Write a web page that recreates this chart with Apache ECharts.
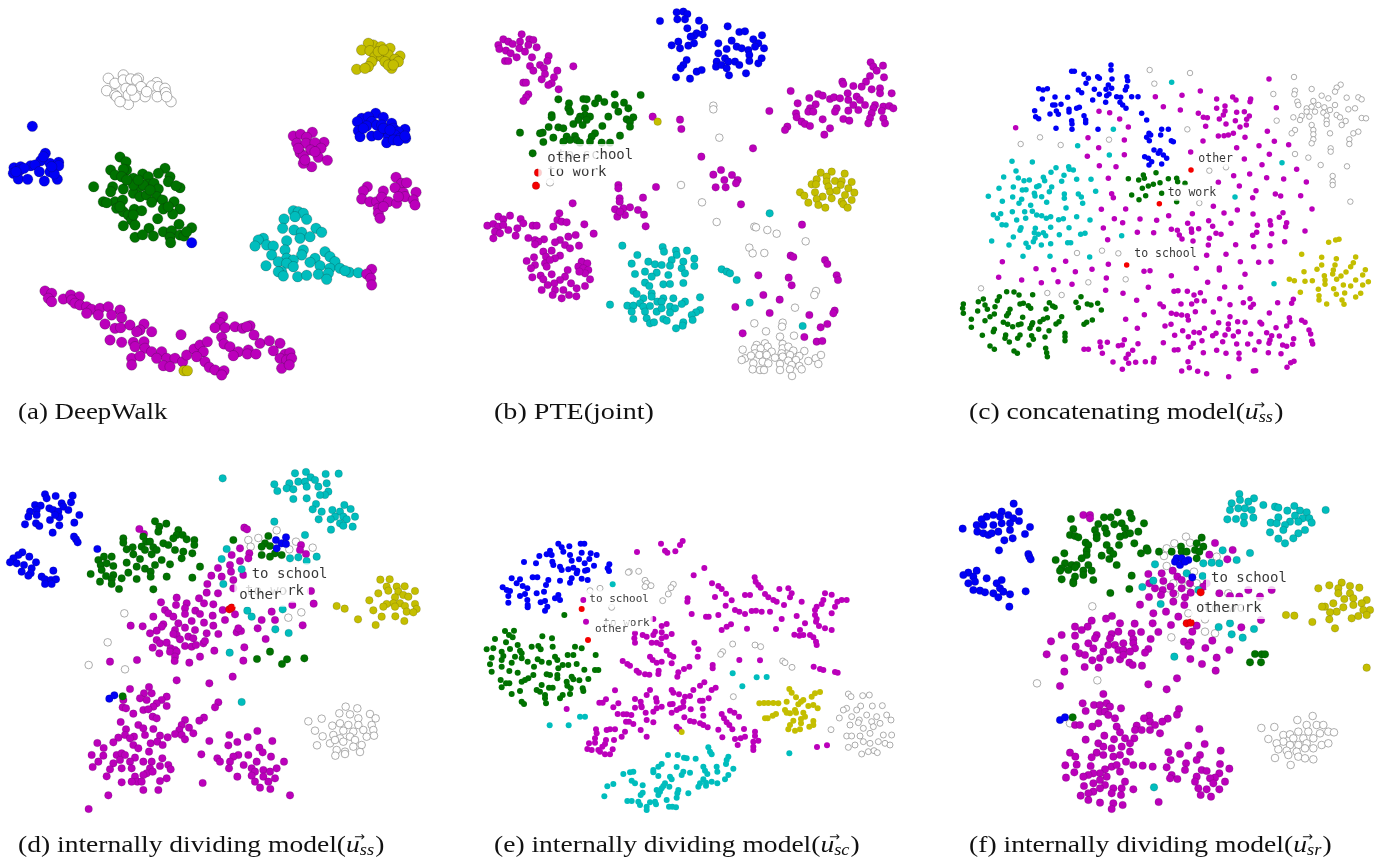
<!DOCTYPE html>
<html>
<head>
<meta charset="utf-8">
<title>embeddings</title>
<script src="https://cdn.jsdelivr.net/npm/echarts@6/dist/echarts.min.js"></script>
<style>
html,body{margin:0;padding:0;background:#fff}
#main{width:1377px;height:860px}
</style>
</head>
<body>
<div id="main"></div>
<script>
// values, each panel has its own 3x scale
var aBlue=[[97,379],[136,460],[122,482],[150,490],[176,487],[176,497],[42,503],[62,500],[60,510],[92,497],[105,495],[40,520],[55,537],[83,538],[118,515],[133,543],[172,538],[150,515],[163,522],[72,505],[48,515],[130,470],[155,500],[575,728],[1127,340],[1150,352],[1085,355],[1105,350],[1072,365],[1115,365],[1175,370],[1100,378],[1075,392],[1130,375],[1145,375],[1180,385],[1215,388],[1195,395],[1160,395],[1080,410],[1115,408],[1135,405],[1165,410],[1185,405],[1200,415],[1217,415],[1160,428],[1180,420],[1195,422],[1215,408],[1150,385],[1090,385],[1170,390]];
var aGreen=[[360,471],[378,485],[380,510],[332,510],[370,508],[345,525],[365,530],[400,535],[428,522],[445,530],[495,505],[475,520],[510,530],[505,545],[540,563],[528,557],[281,560],[338,560],[332,575],[370,567],[420,560],[445,553],[462,550],[475,567],[400,580],[420,590],[440,585],[470,590],[488,600],[455,607],[310,605],[345,605],[368,600],[522,605],[350,625],[370,635],[385,645],[403,628],[425,632],[490,627],[540,627],[518,642],[473,656],[395,660],[405,675],[370,677],[537,673],[447,685],[575,683],[490,695],[515,692],[405,712],[428,704],[460,708],[510,712],[512,728],[540,705],[552,708],[560,695],[430,555],[400,555],[380,540],[415,540],[450,570],[320,608],[360,620],[505,620],[400,645]];
var aOlive=[[1120,135],[1105,130],[1085,150],[1110,152],[1143,140],[1170,145],[1125,170],[1145,170],[1165,165],[1200,168],[1185,178],[1155,185],[1195,185],[1115,185],[1105,200],[1070,208],[1095,205],[1175,205],[1165,195],[1180,195],[1135,155],[552,1112],[562,1112],[1150,150]];
var aWhite=[[325,235],[370,225],[345,250],[370,240],[392,237],[415,235],[410,240],[320,272],[345,285],[378,265],[423,260],[470,248],[455,258],[475,260],[495,265],[472,290],[497,278],[435,290],[513,305],[385,313],[350,290],[385,285],[360,305],[405,290],[395,270],[440,275],[500,290]];
var aMagenta=[[937,397],[880,408],[902,403],[920,412],[972,427],[890,430],[918,430],[945,428],[963,445],[932,450],[900,458],[910,468],[955,472],[982,481],[935,500],[910,490],[945,455],[895,445],[915,480],[1188,532],[1205,550],[1220,548],[1102,560],[1090,573],[1150,573],[1185,563],[1210,578],[1248,577],[1085,597],[1110,605],[1130,605],[1145,592],[1165,605],[1190,610],[1215,590],[1240,600],[1245,615],[1135,625],[1135,640],[1140,655],[1150,620],[1195,590],[1115,808],[1100,822],[1112,835],[1115,855],[135,873],[155,880],[145,895],[155,905],[190,897],[212,885],[238,890],[215,900],[225,910],[240,915],[260,920],[275,928],[300,925],[325,920],[360,930],[260,940],[295,945],[335,945],[365,953],[315,972],[345,985],[362,983],[330,1020],[365,1027],[390,975],[432,972],[420,990],[410,995],[455,995],[543,1004],[400,1027],[432,1025],[405,1040],[435,1045],[455,1055],[485,1055],[395,1075],[420,1068],[470,1075],[500,1075],[525,1075],[395,1095],[490,1097],[510,1100],[548,1085],[560,1065],[582,1047],[600,1035],[622,1025],[610,1055],[590,1070],[615,1085],[628,1102],[645,1110],[672,1112],[665,1125],[668,950],[660,968],[645,983],[675,983],[705,980],[728,985],[750,977],[740,980],[762,1005],[665,1012],[672,1032],[690,1040],[715,1055],[700,1067],[745,1050],[742,1062],[768,1062],[780,1030],[808,1022],[840,1030],[820,1052],[855,1063],[870,1058],[840,1075],[860,1080],[875,1075],[845,1105],[868,1095]];
var aCyan=[[880,632],[895,635],[910,640],[852,657],[885,650],[920,658],[848,685],[882,690],[905,697],[948,685],[965,697],[860,722],[900,715],[930,710],[790,715],[775,720],[765,738],[800,735],[820,738],[855,750],[910,750],[815,765],[860,775],[905,765],[975,755],[990,770],[880,780],[835,785],[945,775],[930,787],[1005,785],[798,797],[860,790],[880,800],[960,797],[990,805],[1020,805],[845,815],[835,815],[850,828],[893,830],[920,826],[955,823],[985,820],[980,838],[1048,817],[1075,818],[1035,812]];

var bBlue=[[620,37],[640,35],[652,42],[570,63],[622,58],[645,58],[687,62],[703,83],[652,85],[680,100],[698,103],[672,108],[662,110],[773,79],[808,96],[825,94],[876,106],[745,130],[785,122],[850,118],[605,136],[625,125],[630,145],[655,137],[672,130],[770,147],[800,140],[815,145],[835,150],[865,130],[882,145],[855,140],[838,165],[745,160],[740,185],[765,175],[775,185],[795,185],[808,195],[838,183],[875,175],[865,190],[650,180],[640,195],[632,205],[618,232],[660,236],[680,215],[695,210],[738,200],[755,195],[770,205],[777,226],[828,220]];
var bMagenta=[[155,103],[100,118],[115,125],[85,135],[88,147],[128,132],[150,125],[178,118],[190,120],[175,135],[200,142],[148,145],[165,155],[108,152],[122,160],[140,172],[186,172],[236,168],[105,183],[115,183],[232,183],[180,198],[190,212],[210,195],[222,205],[310,199],[262,212],[225,222],[215,238],[252,232],[160,248],[168,248],[245,250],[235,255],[266,268],[175,283],[168,292],[160,303],[548,350],[630,359],[634,387],[694,470],[849,445],[898,333],[753,510],[730,524],[786,525],[763,540],[803,540],[737,562],[767,562],[798,550],[813,613],[445,555],[445,565],[558,561],[449,595],[449,605],[519,593],[435,628],[460,625],[480,622],[504,630],[442,650],[465,645],[522,644],[527,679],[308,610],[450,635],[52,677],[85,650],[100,658],[120,647],[152,657],[160,670],[70,672],[85,680],[100,675],[115,690],[75,695],[90,700],[70,715],[137,707],[142,685],[188,677],[200,677],[250,680],[268,640],[262,660],[275,665],[290,667],[343,673],[371,701],[175,714],[195,720],[222,718],[205,725],[195,733],[295,710],[317,705],[270,720],[255,727],[285,735],[300,745],[327,737],[245,752],[220,755],[270,767],[255,775],[228,770],[192,772],[170,783],[195,795],[225,790],[240,780],[183,805],[230,800],[335,785],[352,790],[325,800],[340,805],[355,810],[345,820],[328,815],[293,810],[245,823],[187,832],[212,827],[220,838],[360,838],[285,830],[270,840],[253,850],[233,855],[303,850],[345,858],[320,865],[215,870],[255,870],[280,870],[248,885],[275,895],[297,885],[319,889],[962,273],[1202,187],[1210,200],[1220,212],[1239,197],[1242,232],[1117,245],[1200,228],[1188,245],[1175,260],[1150,258],[1120,252],[1045,282],[1058,287],[1133,280],[1205,268],[1230,265],[1265,280],[1018,294],[1080,297],[1092,292],[1110,295],[1135,300],[1160,290],[1170,300],[983,310],[1037,313],[1150,315],[1185,315],[1230,280],[1215,315],[1210,325],[1240,320],[1258,318],[1270,325],[1020,325],[1015,335],[1100,325],[1095,335],[1135,332],[1165,330],[1235,333],[978,340],[1030,335],[980,352],[1205,340],[1200,355],[1195,370],[995,365],[1005,372],[1020,378],[1058,358],[1120,357],[1138,362],[1240,355],[1245,370],[952,380],[945,390],[1080,385],[1063,404],[996,674],[962,767],[970,771],[1065,780],[1072,792],[865,826],[956,833],[965,856],[1100,826],[1104,840],[880,885],[929,899],[796,921],[899,939],[1018,945],[1094,932],[1090,940],[1052,982],[1072,972],[818,1000],[1003,1011],[1040,1025],[1057,1023]];
var bGreen=[[434,283],[512,285],[265,298],[340,297],[350,298],[385,295],[375,310],[403,306],[297,310],[295,325],[300,335],[345,325],[435,315],[462,308],[475,325],[445,335],[415,350],[345,345],[330,350],[360,350],[350,360],[245,345],[245,352],[325,360],[470,358],[490,352],[480,365],[338,375],[310,372],[397,378],[236,381],[265,382],[280,385],[480,380],[218,398],[210,400],[150,398],[450,407],[250,413],[375,400],[365,410],[290,410],[315,408],[300,420],[320,420],[220,426],[280,425],[360,425],[420,428],[395,428],[330,428],[188,460]];
var bOlive=[[563,365],[1052,518],[1085,515],[1124,521],[1070,530],[1040,538],[1070,545],[1095,543],[1115,543],[1145,546],[1025,553],[1038,553],[1075,560],[1112,555],[1135,565],[990,577],[1003,587],[1035,577],[1058,590],[1080,575],[1100,572],[1125,585],[1153,578],[1040,597],[1085,595],[1015,608],[1045,615],[1066,623],[1115,605],[1120,613],[1145,600],[1133,623]];
var bCyan=[[899,640],[457,737],[578,741],[618,752],[651,752],[582,755],[620,765],[502,765],[673,776],[605,780],[535,785],[485,791],[555,793],[575,795],[600,797],[640,785],[673,798],[635,805],[495,822],[525,815],[560,818],[645,820],[595,825],[545,830],[525,848],[580,853],[600,852],[640,849],[538,858],[755,808],[770,815],[780,820],[800,840],[490,873],[500,882],[545,880],[580,895],[545,890],[690,892],[520,895],[610,895],[645,905],[635,912],[420,914],[472,917],[490,917],[510,910],[520,920],[562,905],[575,905],[600,920],[540,918],[560,935],[575,925],[615,925],[485,935],[525,935],[600,938],[690,930],[678,937],[665,945],[490,957],[530,955],[580,957],[590,962],[668,960],[540,970],[552,967],[640,967],[638,977],[618,985],[839,908],[998,978]];
var bWhite=[[730,317],[730,328],[748,413],[633,555],[240,547],[696,607],[740,666],[853,680],[858,682],[892,690],[920,701],[1007,724],[838,743],[848,760],[883,759],[1038,873],[1033,885],[975,923],[853,970],[938,968],[936,980],[888,994],[930,1010],[972,1007],[818,1049],[860,1035],[885,1030],[855,1045],[872,1045],[893,1040],[905,1055],[855,1060],[825,1075],[843,1067],[868,1065],[890,1065],[938,1032],[938,1045],[955,1040],[970,1052],[1003,1053],[935,1060],[938,1070],[915,1073],[960,1065],[988,1068],[850,1090],[878,1085],[895,1090],[955,1082],[978,1080],[1015,1083],[1037,1075],[1053,1065],[1045,1092],[930,1092],[965,1095],[988,1098],[848,1108],[870,1110],[882,1110],[930,1110],[960,1108],[995,1108],[966,1128],[815,1080]];
var bRed=[[204,518],[198,557]];
var bLabels=[[235,465,'to school'],[205,517,'to work'],[205,475,'other']];

var cBlue=[[513,45],[513,60],[403,64],[395,64],[432,73],[473,80],[478,85],[561,80],[563,92],[516,87],[445,85],[438,100],[505,105],[498,118],[515,115],[560,110],[556,120],[296,116],[309,120],[322,116],[415,120],[425,128],[463,118],[478,133],[500,137],[507,132],[530,140],[542,142],[575,140],[594,140],[345,141],[383,142],[307,147],[458,150],[497,157],[540,157],[548,165],[558,175],[338,165],[345,165],[363,163],[387,178],[387,186],[418,172],[410,175],[284,182],[349,183],[355,193],[330,192],[287,200],[296,206],[432,197],[437,210],[437,218],[395,212],[396,222],[605,190],[620,210],[348,235],[396,238],[474,238],[627,250],[665,238],[685,238],[632,255],[620,262],[662,255],[628,272],[694,272],[700,275],[642,300],[660,302],[670,315],[680,325],[614,320],[625,325],[635,335],[627,345],[665,342],[655,310]];
var cMagenta=[[987,87],[646,140],[726,136],[781,123],[830,147],[878,141],[888,150],[932,147],[930,155],[670,170],[721,180],[855,168],[830,175],[1009,173],[477,184],[509,188],[775,190],[855,183],[890,187],[913,185],[790,202],[802,203],[838,207],[850,195],[886,212],[928,198],[920,208],[539,207],[858,222],[919,225],[900,231],[797,229],[565,231],[227,233],[982,244],[880,250],[865,255],[852,257],[835,258],[915,262],[444,263],[553,270],[789,273],[1003,274],[957,287],[890,293],[1046,284],[476,293],[752,306],[988,313],[442,319],[553,314],[913,327],[478,347],[528,350],[966,344],[1070,358],[881,377],[929,372],[505,385],[980,383],[1031,387],[835,397],[898,408],[1099,396],[948,422],[515,431],[520,443],[938,443],[1006,432],[1022,438],[1082,437],[820,469],[484,478],[557,477],[892,480],[1116,477],[852,489],[757,491],[686,497],[939,492],[1029,488],[1018,502],[523,506],[600,507],[650,511],[548,518],[806,512],[743,520],[873,520],[990,512],[992,525],[952,526],[1040,518],[1037,530],[490,534],[694,538],[818,529],[754,537],[776,536],[712,541],[718,555],[755,547],[592,547],[641,548],[828,550],[843,553],[950,547],[938,556],[995,551],[1095,543],[503,569],[726,567],[759,573],[808,565],[1034,575],[805,585],[887,584],[941,590],[990,587],[800,616],[858,613],[187,635],[377,634],[505,643],[901,635],[956,637],[993,635],[288,656],[341,659],[456,658],[406,665],[612,664],[630,662],[769,655],[838,654],[838,660],[176,682],[499,684],[694,677],[915,673],[245,690],[304,698],[354,695],[396,703],[803,697],[625,712],[497,721],[549,730],[854,711],[902,712],[702,724],[714,722],[742,724],[781,728],[762,735],[590,751],[770,752],[793,753],[839,746],[930,746],[910,758],[660,762],[670,770],[723,762],[755,762],[870,764],[940,763],[932,772],[1060,748],[1055,760],[1013,758],[766,785],[820,786],[694,790],[709,793],[725,795],[742,797],[745,810],[988,789],[613,794],[557,808],[870,800],[1048,803],[1085,811],[1095,817],[836,818],[865,822],[893,815],[915,817],[960,817],[965,822],[1050,816],[1040,828],[675,828],[693,823],[1008,833],[592,835],[728,842],[762,847],[778,848],[793,835],[865,838],[895,845],[828,850],[818,857],[855,855],[880,858],[932,852],[980,848],[995,857],[1018,858],[1107,840],[1112,852],[704,856],[745,860],[760,880],[1061,866],[990,870],[553,869],[480,876],[502,877],[594,881],[670,878],[786,872],[848,875],[890,882],[923,882],[957,875],[987,880],[1028,885],[1040,889],[1058,883],[1115,873],[1118,882],[547,885],[535,887],[482,890],[432,898],[445,898],[752,892],[703,900],[714,899],[578,901],[830,901],[944,900],[985,908],[1023,911],[487,910],[565,913],[790,908],[858,910],[897,910],[897,926],[558,925],[642,925],[640,936],[519,936],[566,940],[587,937],[616,935],[744,935],[1062,934],[1052,938],[1041,952],[547,958],[748,953],[725,963],[773,964],[800,971],[866,980],[947,962],[940,963]];
var cCyan=[[695,97],[520,238],[413,287],[508,315],[216,334],[277,336],[1026,338],[348,353],[386,350],[388,358],[400,360],[228,363],[333,367],[372,376],[191,381],[235,384],[252,392],[268,390],[310,382],[314,392],[365,394],[410,388],[453,388],[177,415],[220,411],[247,420],[258,419],[290,410],[297,407],[335,411],[283,430],[328,425],[373,432],[415,432],[424,441],[467,424],[885,441],[145,439],[187,454],[218,441],[245,448],[237,460],[285,438],[305,440],[320,457],[373,445],[428,460],[272,466],[160,494],[182,491],[217,485],[254,485],[277,484],[290,495],[305,497],[319,505],[332,500],[378,474],[410,500],[450,510],[172,505],[230,510],[257,505],[356,509],[370,506],[186,524],[198,525],[243,533],[240,541],[286,535],[332,532],[387,533],[220,561],[283,548],[295,553],[310,548],[317,557],[358,554],[422,553],[435,550],[545,557],[155,573],[207,585],[258,580],[265,592],[280,575],[285,565],[304,585],[332,581],[383,578],[392,578],[249,619],[330,619],[449,621],[1002,701]];
var cWhite=[[629,60],[750,69],[1062,81],[643,101],[1115,117],[1065,122],[1202,104],[1190,113],[1185,125],[1000,132],[1063,133],[1145,137],[1165,145],[1220,143],[1255,142],[1265,148],[1072,155],[1075,165],[1120,153],[1100,175],[1115,170],[1135,165],[1153,172],[1185,165],[1170,180],[1225,178],[1245,175],[1100,185],[1125,185],[1060,202],[1085,198],[1080,210],[1108,200],[1150,188],[1190,195],[1200,202],[1160,197],[1160,212],[1217,213],[1205,225],[1265,204],[1278,205],[1010,212],[1115,225],[1160,222],[1120,240],[1120,253],[742,238],[1065,240],[1055,250],[1170,250],[1120,268],[1115,280],[1240,250],[1255,245],[1228,268],[1228,282],[507,269],[300,262],[242,282],[362,285],[1172,295],[1172,305],[1065,312],[1105,323],[1142,345],[1221,349],[808,362],[858,352],[1178,378],[1178,395],[1178,405],[1231,455],[778,459],[411,609],[486,602],[535,610],[557,688],[445,697],[123,715],[322,729],[365,735]];
var cGreen=[[565,386],[596,390],[610,375],[613,385],[648,368],[685,386],[710,385],[713,395],[607,415],[625,408],[640,403],[660,398],[575,435],[617,437],[597,449],[665,430],[710,455],[735,400],[70,762],[68,775],[70,790],[115,755],[130,747],[135,765],[142,778],[113,783],[178,740],[172,752],[165,770],[200,725],[222,726],[237,735],[278,734],[240,762],[250,760],[265,767],[272,775],[328,758],[338,768],[345,772],[318,777],[210,778],[205,790],[200,797],[163,792],[150,800],[135,812],[94,808],[248,802],[322,803],[310,808],[300,815],[365,800],[357,815],[348,822],[190,817],[203,823],[218,830],[235,824],[243,822],[278,818],[275,825],[270,835],[94,832],[163,838],[160,845],[296,838],[327,842],[127,856],[197,855],[195,865],[240,855],[233,865],[275,857],[280,868],[315,861],[375,850],[375,860],[375,872],[208,876],[267,885],[150,888],[163,898],[222,903],[232,910],[317,895],[320,908],[322,920],[423,740],[408,757],[415,773],[442,762],[453,765],[473,760],[484,780],[457,810],[440,817],[432,823]];
var cOlive=[[1197,568],[1187,570],[1166,577],[1085,613],[1145,622],[1189,626],[1247,621],[1145,645],[1240,638],[1232,650],[1185,645],[1180,660],[1131,658],[1092,665],[1218,666],[1203,678],[1178,672],[1153,677],[1276,659],[1268,675],[1190,688],[1155,690],[1048,688],[1063,692],[1095,694],[1117,692],[1247,690],[1285,695],[1155,703],[1210,705],[1232,708],[1268,705],[1135,718],[1181,716],[1081,727],[1137,737],[1189,733],[1214,729],[1262,730],[1247,741],[1137,750],[1206,750],[1160,762],[1212,763]];
var cRed=[[753,360],[658,461],[560,645]];
var cLabels=[[574,611,'to school'],[674,428,'to work'],[766,326,'other']];

var dBlue=[[135,103],[167,108],[218,107],[140,115],[213,127],[105,135],[122,137],[185,130],[190,140],[148,145],[160,150],[90,155],[110,150],[175,155],[205,150],[238,165],[85,170],[110,165],[150,180],[178,172],[165,165],[75,193],[108,190],[118,198],[178,196],[223,188],[158,218],[222,230],[228,238],[233,247],[67,277],[55,285],[40,295],[88,290],[30,307],[50,310],[72,315],[108,307],[95,325],[65,335],[92,340],[85,347],[125,350],[160,332],[135,358],[153,360],[168,358],[135,372],[155,372],[292,267],[828,240],[858,232],[845,250],[830,265],[858,252],[328,716],[343,706]];
var dGreen=[[465,184],[499,191],[478,200],[475,215],[535,210],[530,225],[520,235],[548,225],[560,238],[583,240],[583,255],[370,235],[370,248],[430,230],[438,245],[425,260],[450,245],[460,262],[470,270],[490,250],[505,255],[380,268],[398,262],[400,283],[435,270],[455,283],[525,270],[550,275],[577,280],[545,295],[420,297],[485,300],[295,300],[312,290],[335,290],[302,315],[320,310],[340,318],[380,308],[410,320],[465,315],[510,313],[600,320],[272,342],[305,330],[318,348],[340,345],[335,358],[335,372],[385,338],[435,326],[452,335],[452,350],[365,355],[410,357],[500,350],[577,353],[300,365],[357,387],[460,388],[700,240],[805,228],[795,250],[810,258],[785,260],[825,280],[785,285],[810,290],[845,285],[771,597],[810,575],[861,598],[846,612],[913,595],[368,709]];
var dMagenta=[[418,207],[432,222],[733,203],[741,208],[720,265],[695,285],[903,255],[900,270],[918,282],[748,280],[745,295],[720,303],[690,315],[654,324],[693,335],[634,347],[665,350],[730,345],[622,372],[700,360],[620,398],[654,400],[700,385],[530,413],[597,415],[483,427],[612,430],[640,433],[560,430],[528,435],[555,445],[495,450],[668,450],[586,452],[600,462],[505,460],[520,470],[555,462],[460,470],[638,467],[675,480],[705,463],[785,480],[825,480],[815,455],[877,435],[933,393],[941,431],[908,496],[575,483],[612,488],[392,497],[428,499],[490,493],[535,490],[640,497],[485,500],[470,512],[450,520],[525,510],[555,503],[585,510],[620,520],[655,522],[530,525],[565,530],[520,522],[710,517],[723,513],[715,505],[773,505],[797,537],[470,540],[480,550],[500,548],[540,538],[580,535],[555,558],[575,560],[588,555],[610,550],[615,543],[458,563],[512,565],[525,570],[478,580],[510,575],[530,575],[643,572],[733,562],[600,590],[525,590],[524,603],[411,600],[330,605],[568,608],[730,602],[698,650],[530,661],[628,670],[390,687],[447,681],[432,700],[455,700],[500,710],[420,715],[440,720],[485,720],[470,730],[460,740],[500,738],[370,720],[368,742],[378,745],[430,750],[445,748],[400,761],[458,770],[470,775],[362,786],[415,795],[430,805],[378,808],[460,807],[375,825],[435,825],[355,833],[402,830],[340,847],[390,835],[480,827],[503,832],[452,850],[472,845],[488,855],[292,849],[400,855],[415,865],[311,864],[447,875],[275,885],[310,887],[350,885],[365,880],[375,885],[405,893],[360,900],[487,895],[340,910],[295,905],[390,905],[430,905],[455,905],[480,918],[505,915],[512,928],[278,921],[330,928],[365,925],[395,925],[450,925],[440,940],[458,935],[320,949],[405,950],[430,945],[412,965],[365,967],[395,965],[425,965],[480,963],[500,955],[430,990],[475,990],[325,1006],[266,1047],[655,727],[645,742],[612,773],[598,782],[555,780],[545,795],[567,803],[538,810],[580,820],[525,822],[545,825],[555,838],[628,843],[604,883],[688,825],[743,831],[772,813],[712,846],[817,843],[685,856],[778,863],[788,877],[715,885],[745,885],[700,890],[652,895],[660,905],[813,890],[690,905],[852,905],[731,915],[770,905],[687,925],[755,925],[830,925],[765,935],[790,930],[810,935],[755,947],[712,950],[790,950],[825,955],[805,965],[765,965],[780,983],[811,987],[870,1006],[608,969]];
var dCyan=[[668,55],[885,40],[918,36],[1016,41],[977,42],[932,52],[823,73],[868,70],[895,65],[915,65],[945,60],[980,70],[860,85],[880,88],[920,80],[955,80],[832,93],[985,95],[975,105],[880,117],[920,115],[960,105],[948,132],[1033,135],[938,148],[965,155],[997,150],[1052,147],[1020,155],[1005,170],[1030,170],[1065,170],[992,178],[1040,178],[956,178],[1020,190],[1058,200],[1030,197],[993,209],[823,185],[915,225],[680,267],[665,297],[870,295],[895,292],[920,303],[950,290],[725,328],[670,372],[742,452],[755,470],[848,448],[826,508],[866,519],[689,578],[725,726]];
var dOlive=[[1141,359],[1169,358],[1160,380],[1190,380],[1214,379],[1245,393],[1165,392],[1195,395],[1135,400],[1185,412],[1210,405],[1225,410],[1108,421],[1180,430],[1160,432],[1200,430],[1245,432],[1150,440],[1185,440],[1215,438],[1250,447],[1120,451],[1220,455],[1240,457],[1145,470],[1186,469],[1213,483],[1127,495],[1010,438],[1034,446],[1074,478]];
var dWhite=[[830,211],[775,234],[745,240],[888,245],[752,260],[868,268],[938,263],[865,473],[904,457],[373,460],[323,547],[266,615],[375,628],[1037,740],[1072,745],[1018,760],[1050,763],[1110,762],[925,784],[965,776],[1075,775],[1127,775],[997,797],[1045,795],[1075,795],[1020,790],[1115,795],[945,812],[1030,812],[1060,815],[1090,810],[1120,810],[968,829],[1000,825],[1020,835],[1050,830],[1100,830],[1122,827],[990,850],[1005,840],[1030,845],[1065,840],[951,856],[1060,860],[1085,855],[1010,870],[1035,875],[1080,876],[1006,887],[1035,882]];
var dRed=[[688,448],[695,443]];
var dLabels=[[740,343,'to school'],[720,395,'to work'],[703,407,'other']];

var eBlue=[[265,71],[275,82],[298,79],[332,71],[343,71],[280,95],[240,92],[230,103],[208,108],[245,105],[300,105],[335,98],[362,100],[380,105],[162,126],[198,130],[247,125],[250,135],[305,122],[327,118],[358,117],[372,137],[344,130],[418,133],[413,145],[417,153],[270,140],[275,150],[295,148],[310,143],[322,152],[345,152],[352,150],[320,160],[270,182],[305,175],[300,188],[335,176],[353,180],[125,175],[150,178],[188,172],[202,172],[235,180],[228,195],[140,190],[158,198],[172,205],[98,202],[110,210],[120,213],[200,220],[222,215],[265,225],[255,235],[270,240],[150,228],[165,222],[172,240],[115,228],[115,248],[173,255],[173,262],[212,247],[225,243],[232,260],[225,272]];
var eGreen=[[283,285],[105,333],[132,332],[117,345],[128,352],[75,357],[108,367],[217,349],[246,355],[70,385],[50,388],[120,387],[143,375],[185,380],[205,378],[212,388],[248,380],[315,380],[335,385],[95,395],[100,408],[65,413],[95,420],[150,392],[155,400],[135,410],[155,415],[203,418],[255,410],[293,405],[310,405],[377,405],[125,428],[60,433],[95,440],[173,425],[215,425],[237,428],[262,420],[320,432],[278,435],[295,435],[265,445],[192,440],[343,449],[375,450],[385,450],[65,455],[118,453],[143,458],[230,463],[240,465],[262,465],[262,475],[190,465],[175,475],[165,480],[155,485],[305,470],[310,478],[290,485],[328,481],[355,477],[92,480],[108,490],[118,490],[215,495],[237,503],[248,503],[292,497],[302,505],[338,505],[340,513],[95,502],[200,510],[210,515],[125,522],[150,513],[225,525],[225,535],[278,525],[270,535],[300,522],[155,545],[162,552],[228,550]];
var eMagenta=[[573,71],[638,63],[630,75],[501,96],[585,92],[592,98],[616,94],[703,144],[671,166],[854,172],[857,185],[865,195],[872,203],[726,190],[745,198],[755,207],[928,207],[955,205],[965,220],[768,221],[825,225],[840,225],[885,222],[895,232],[960,232],[1065,220],[1085,224],[735,231],[653,235],[652,245],[785,241],[910,240],[920,245],[995,245],[942,255],[767,257],[1060,240],[1055,252],[1040,260],[1102,245],[1115,240],[1130,240],[1095,260],[1085,280],[795,270],[808,275],[825,282],[845,273],[858,272],[875,275],[900,275],[665,282],[708,290],[716,290],[745,285],[980,288],[1035,270],[1035,285],[1040,297],[1038,305],[935,297],[1047,318],[1065,325],[1085,330],[783,313],[770,320],[755,330],[831,326],[918,327],[1005,310],[990,330],[973,344],[988,347],[1000,345],[1020,345],[1030,352],[1038,365],[1040,375],[340,240],[348,305],[550,297],[590,312],[575,318],[555,335],[575,337],[605,342],[588,350],[495,340],[518,345],[530,350],[550,345],[493,355],[495,368],[575,355],[545,368],[560,368],[572,373],[673,368],[685,388],[590,392],[600,405],[683,410],[540,410],[548,420],[560,428],[575,425],[610,410],[605,430],[458,423],[472,432],[480,437],[728,435],[728,445],[658,440],[642,447],[625,457],[622,470],[500,452],[507,458],[525,463],[538,464],[566,452],[565,462],[808,420],[870,421],[1031,440],[1050,447],[1060,450],[1095,456],[1103,458],[703,487],[690,497],[605,510],[610,518],[627,523],[645,530],[737,503],[725,510],[670,510],[660,528],[540,510],[530,525],[435,511],[558,535],[560,545],[495,537],[512,545],[514,558],[515,562],[408,538],[388,548],[398,548],[445,550],[430,562],[495,563],[600,553],[608,552],[640,545],[640,560],[690,542],[698,542],[716,535],[575,560],[560,565],[550,575],[630,565],[620,570],[605,578],[662,568],[698,566],[527,578],[443,582],[460,583],[470,583],[484,585],[700,587],[643,592],[530,600],[468,605],[477,605],[490,612],[550,607],[660,603],[672,605],[690,610],[700,615],[713,622],[755,582],[762,595],[770,607],[780,572],[793,578],[807,590],[778,615],[787,628],[620,620],[628,628],[745,629],[822,627],[512,630],[530,650],[420,628],[435,628],[410,630],[378,628],[465,635],[455,650],[380,640],[375,655],[375,668],[408,660],[405,672],[432,660],[397,680],[357,670],[352,687],[365,690],[385,690],[390,695],[405,703],[420,703],[428,688],[757,652],[795,657],[812,655],[825,650],[803,675],[855,635],[855,648],[865,662],[850,665],[850,680],[850,690],[290,567],[1041,681],[1071,676]];
var eCyan=[[428,193],[330,590],[345,590],[239,616],[296,616],[788,460],[860,472],[890,471],[817,499],[958,700],[715,682],[720,695],[725,703],[594,705],[623,705],[642,713],[650,715],[677,716],[775,710],[770,720],[768,732],[575,732],[565,740],[550,750],[550,757],[700,740],[620,741],[705,752],[640,755],[660,758],[635,765],[480,757],[490,755],[460,762],[740,740],[742,755],[712,762],[790,746],[775,765],[765,778],[565,768],[600,770],[605,778],[485,782],[495,790],[430,792],[412,799],[518,796],[585,790],[580,798],[575,805],[700,778],[690,790],[708,788],[725,785],[742,790],[685,800],[708,797],[598,800],[560,810],[565,825],[625,810],[622,820],[620,833],[655,820],[518,818],[512,825],[403,829],[570,815],[472,843],[485,843],[505,845],[510,855],[540,847],[555,845],[558,853],[590,840],[530,860],[530,870],[597,860],[607,860],[618,862]];
var eOlive=[[958,507],[965,518],[1050,516],[1035,520],[1025,530],[978,532],[1000,540],[993,545],[985,553],[868,550],[882,549],[895,549],[910,549],[925,550],[950,545],[1015,558],[1030,555],[1043,565],[945,570],[975,570],[978,578],[950,578],[1000,578],[960,580],[918,582],[908,587],[893,595],[885,595],[1005,590],[993,597],[1030,603],[970,602],[960,615],[993,610],[1030,615],[1018,620],[955,628],[990,628],[975,632],[635,636]];
var eWhite=[[478,155],[475,157],[506,154],[525,181],[530,190],[543,197],[525,200],[610,193],[603,203],[595,222],[578,242],[390,205],[360,212],[425,262],[788,372],[855,375],[872,380],[758,395],[752,403],[938,423],[945,428],[966,442],[790,530],[1135,522],[1143,530],[1178,527],[1198,525],[1130,565],[1120,570],[1172,558],[1207,558],[1237,557],[1160,570],[1145,590],[1108,594],[1190,585],[1168,600],[1220,590],[1250,585],[1263,600],[1140,615],[1165,608],[1205,605],[1230,610],[1180,625],[1210,620],[1083,629],[1130,648],[1145,648],[1170,648],[1200,640],[1240,645],[1265,645],[1180,665],[1225,665],[1245,670],[1260,675],[1135,682],[1155,675],[1200,670],[1175,702],[1195,695],[1212,692],[1222,698]];
var eRed=[[335,267],[354,360]];
var eLabels=[[349,236,'to school'],[391,308,'to work'],[366,327,'other']];

var fBlue=[[221,71],[185,95],[237,95],[160,105],[140,110],[125,118],[180,110],[205,105],[220,115],[237,123],[110,135],[68,146],[130,135],[160,135],[185,130],[210,130],[270,141],[112,155],[130,160],[145,165],[155,160],[175,155],[210,150],[255,162],[218,175],[193,181],[177,211],[265,222],[268,230],[272,238],[110,272],[85,278],[70,285],[100,290],[140,295],[105,305],[185,300],[85,310],[170,310],[100,330],[120,332],[135,337],[180,325],[160,340],[190,335],[210,343],[257,334],[175,352],[208,380],[710,235],[725,235],[745,240],[705,245],[720,255],[735,245],[757,292],[360,720],[375,712]];
var fGreen=[[393,117],[492,112],[512,112],[533,97],[570,100],[575,115],[612,130],[523,133],[475,132],[495,145],[545,130],[555,145],[400,147],[465,150],[390,165],[405,168],[415,172],[470,165],[500,160],[555,165],[595,155],[540,170],[570,160],[437,188],[470,175],[537,195],[583,190],[500,195],[445,195],[440,212],[510,212],[620,205],[603,220],[623,212],[657,215],[373,220],[520,222],[485,227],[440,225],[425,235],[347,240],[508,237],[530,255],[375,250],[395,255],[410,255],[365,265],[385,270],[405,262],[445,255],[455,272],[430,272],[430,285],[360,272],[405,290],[365,298],[400,305],[400,310],[460,300],[575,287],[568,327],[511,339],[695,215],[723,200],[725,215],[740,215],[785,173],[770,190],[790,200],[765,210],[778,215],[770,235],[945,522],[965,523],[975,523],[930,547],[963,547],[398,712]];
var fMagenta=[[430,105],[450,105],[450,115],[825,189],[878,210],[808,224],[862,238],[625,282],[665,280],[698,272],[712,290],[725,300],[628,310],[670,303],[645,325],[692,320],[750,310],[668,330],[725,325],[627,351],[663,345],[700,340],[752,338],[735,352],[600,374],[700,365],[838,340],[870,348],[898,350],[960,350],[995,330],[925,330],[800,310],[790,320],[678,395],[733,375],[640,400],[715,410],[638,430],[693,435],[963,420],[904,442],[770,437],[757,455],[817,482],[732,485],[752,487],[745,498],[796,504],[868,510],[830,533],[751,537],[786,552],[827,572],[516,408],[498,416],[455,422],[540,430],[584,431],[405,440],[443,440],[425,450],[365,465],[470,465],[465,475],[405,467],[515,462],[535,455],[575,460],[603,456],[655,456],[333,484],[510,475],[580,478],[632,477],[407,500],[445,490],[460,505],[505,495],[550,490],[525,495],[580,490],[585,505],[625,507],[490,515],[535,510],[550,510],[320,523],[418,520],[435,525],[570,515],[615,518],[373,534],[457,541],[480,534],[510,540],[540,538],[550,525],[568,548],[578,555],[606,557],[434,561],[476,563],[373,575],[360,618],[625,613],[680,628],[711,595],[490,642],[428,670],[462,675],[480,675],[500,670],[510,680],[543,685],[437,693],[480,695],[495,695],[505,705],[525,715],[717,687],[711,704],[628,707],[612,715],[630,725],[683,716],[667,725],[405,735],[420,735],[457,740],[475,730],[530,740],[590,737],[645,735],[585,750],[605,750],[630,750],[660,760],[778,747],[540,757],[493,767],[583,775],[555,775],[437,779],[522,778],[570,790],[475,790],[490,800],[515,805],[545,800],[794,792],[745,797],[685,817],[570,815],[842,812],[470,818],[455,832],[490,825],[520,830],[540,825],[720,822],[780,825],[390,818],[406,830],[692,840],[770,840],[558,845],[738,850],[840,852],[376,856],[410,854],[580,855],[608,857],[638,860],[680,862],[495,868],[515,860],[530,855],[452,858],[735,870],[785,870],[800,873],[868,866],[540,875],[480,880],[460,880],[445,885],[430,890],[403,877],[378,893],[695,885],[690,895],[712,897],[770,890],[765,905],[838,880],[825,893],[810,895],[500,890],[480,900],[855,905],[432,918],[460,910],[495,915],[555,905],[520,925],[545,925],[580,928],[775,925],[800,928],[838,928],[820,910],[460,935],[480,925],[422,947],[445,940],[515,940],[543,945],[782,945],[813,950],[480,968],[445,960],[520,970],[548,975],[515,987],[656,966]];
var fCyan=[[898,42],[875,70],[970,75],[942,55],[1005,80],[1015,83],[1063,78],[1157,90],[900,60],[925,65],[870,90],[895,85],[915,85],[935,90],[1042,92],[1080,92],[1100,97],[862,118],[888,117],[912,110],[912,130],[940,113],[1015,112],[1065,107],[1088,115],[1108,115],[1115,128],[992,128],[1050,125],[1075,125],[1010,130],[1035,135],[1030,150],[1095,150],[1075,160],[990,157],[1015,176],[1060,175],[1035,190],[848,211],[930,219],[890,240],[645,253],[790,250],[815,248],[838,250],[740,280],[788,288],[640,302],[607,321],[775,330],[662,372],[836,441],[870,430],[942,447],[875,463],[908,473],[703,530],[642,922]];
var fOlive=[[1205,308],[1168,316],[1135,325],[1195,325],[1230,318],[1258,323],[1230,340],[1195,340],[1213,357],[1240,355],[1280,360],[1180,370],[1155,380],[1146,380],[1265,370],[1210,382],[1240,375],[1190,395],[1170,397],[1290,390],[1270,390],[1280,405],[1168,418],[1235,415],[1255,408],[1185,445],[1038,405],[1063,407],[1117,426],[1280,563]];
var fWhite=[[738,170],[703,190],[750,188],[680,205],[672,228],[680,258],[830,230],[762,275],[700,310],[685,325],[705,343],[745,315],[770,310],[745,400],[795,418],[865,340],[457,379],[694,472],[795,455],[825,460],[472,601],[291,610],[390,730],[1118,708],[1072,720],[1130,735],[1150,735],[964,744],[1003,741],[1100,735],[1165,755],[1182,757],[1030,765],[1050,763],[1075,755],[1105,755],[1140,760],[985,777],[1030,785],[1060,775],[1090,775],[1120,775],[1010,790],[1050,795],[1075,795],[1100,790],[1145,795],[1165,790],[1015,808],[1040,812],[1120,805],[1070,815],[1095,805],[1005,834],[1045,825],[1075,830],[1095,835],[1120,838],[1052,855]];
var fRed=[[782,337],[740,430],[752,428]];
var fLabels=[[798,294,'to school'],[773,384,'to work'],[753,386,'other']];

var BLUE='#0000f5', GREEN='#007200', CYAN='#00bdbd', MAGENTA='#bb00bb', OLIVE='#c4be00', RED='#f50000';

var myChart = echarts.init(document.getElementById('main'));

var grids=[], xAxes=[], yAxes=[], series=[], captions=[];

function addPanel(p){
  var i=grids.length;
  var y0=p.trim||0;
  grids.push({left:p.left, top:p.top+y0/3, width:p.w, height:p.h-y0/3});
  xAxes.push({gridIndex:i, type:'value', min:0, max:p.w*3, show:false});
  yAxes.push({gridIndex:i, type:'value', min:y0, max:p.h*3, inverse:true, show:false});
  // draw order matters where clusters overlap
  p.sets.forEach(function(s){
    var white=s[1]=='#fff';
    series.push({
      type:'scatter', xAxisIndex:i, yAxisIndex:i, data:s[0], symbolSize:p.size, silent:true,
      clip:true, z:2,
      itemStyle:{
        color:s[1], opacity:1,
        borderColor:white?'#8a8a8a':'rgba(20,20,20,0.55)',
        borderWidth:white?0.7:p.edge
      }
    });
  });
  if(!p.labels) return;
  // later labels paint over earlier ones, like in the figure
  series.push({
    type:'scatter', xAxisIndex:i, yAxisIndex:i, data:p.labels, symbolSize:0, silent:true, clip:false, z:5,
    label:{
      show:true, position:'right', distance:0,
      formatter:function(o){return o.value[2]},
      fontFamily:'DejaVu Sans Mono', fontSize:p.font, color:'#000',
      backgroundColor:'#fff', padding:p.pad
    }
  });
}

addPanel({left:0,top:0,w:419,h:430,size:10.5,edge:0.4,
  sets:[[aWhite,'#fff'],[aBlue,BLUE],[aGreen,GREEN],[aCyan,CYAN],[aMagenta,MAGENTA],[aOlive,OLIVE]]});
addPanel({left:470,top:0,w:425,h:430,trim:27,size:7.6,edge:0.25,font:14,pad:[4,7,4,9],labels:bLabels,
  sets:[[bWhite,'#fff'],[bGreen,GREEN],[bBlue,BLUE],[bMagenta,MAGENTA],[bCyan,CYAN],[bOlive,OLIVE],[bRed,RED]]});
addPanel({left:940,top:50,w:437,h:380,size:5.5,edge:0,font:11.5,pad:[2,3,2,3],labels:cLabels,
  sets:[[cWhite,'#fff'],[cGreen,GREEN],[cBlue,BLUE],[cMagenta,MAGENTA],[cCyan,CYAN],[cOlive,OLIVE],[cRed,RED]]});
addPanel({left:0,top:460,w:419,h:400,size:7.6,edge:0.25,font:14,pad:[4,5,4,5],labels:dLabels,
  sets:[[dWhite,'#fff'],[dMagenta,MAGENTA],[dCyan,CYAN],[dOlive,OLIVE],[dGreen,GREEN],[dBlue,BLUE],[dRed,RED]]});
addPanel({left:470,top:520,w:440,h:340,size:6,edge:0,font:11,pad:[3,3,3,3],labels:eLabels,
  sets:[[eWhite,'#fff'],[eGreen,GREEN],[eBlue,BLUE],[eMagenta,MAGENTA],[eCyan,CYAN],[eOlive,OLIVE],[eRed,RED]]});
addPanel({left:940,top:480,w:437,h:380,size:7.6,edge:0.25,font:14,pad:[4,5,4,5],labels:fLabels,
  sets:[[fWhite,'#fff'],[fMagenta,MAGENTA],[fCyan,CYAN],[fOlive,OLIVE],[fGreen,GREEN],[fBlue,BLUE],[fRed,RED]]});

var capRich={
  t:{fontFamily:'Liberation Serif',fontSize:24,fill:'#111'},
  i:{fontFamily:'Liberation Serif',fontSize:24,fontStyle:'italic',fill:'#111'},
  s:{fontFamily:'Liberation Serif',fontSize:16,fontStyle:'italic',fill:'#111',padding:[10,1,0,0],verticalAlign:'bottom'}
};
// the captions are set wider than the serif font, hence scaleX
function addCaption(x,y,sx,text){
  captions.push({type:'text',x:x,y:y,scaleX:sx,style:{text:text,fontFamily:'Liberation Serif',fontSize:24,fill:'#111',verticalAlign:'middle',rich:capRich}});
}
function addArrow(x,y){
  captions.push({type:'text',x:x,y:y,style:{text:'\u2192',fontFamily:'DejaVu Sans',fontSize:13,fill:'#111',verticalAlign:'middle'}});
}
addCaption(18,413,1.12,'{t|(a) DeepWalk}');
addCaption(494,413,1.17,'{t|(b) PTE(joint)}');
addCaption(969,413,1.15,'{t|(c) concatenating model(}{i|u}{s|ss}{t|)}');
addCaption(18,846,1.147,'{t|(d) internally dividing model(}{i|u}{s|ss}{t|)}');
addCaption(494,846,1.147,'{t|(e) internally dividing model(}{i|u}{s|sc}{t|)}');
addCaption(969,846,1.15,'{t|(f) internally dividing model(}{i|u}{s|sr}{t|)}');
addArrow(1254,406);
addArrow(354,838);
addArrow(829,838);
addArrow(1302,838);

var option = {
  animation:false,
  backgroundColor:'#fff',
  graphic:{elements:captions},
  grid:grids,
  xAxis:xAxes,
  yAxis:yAxes,
  series:series
};
myChart.setOption(option);
</script>
</body>
</html>
